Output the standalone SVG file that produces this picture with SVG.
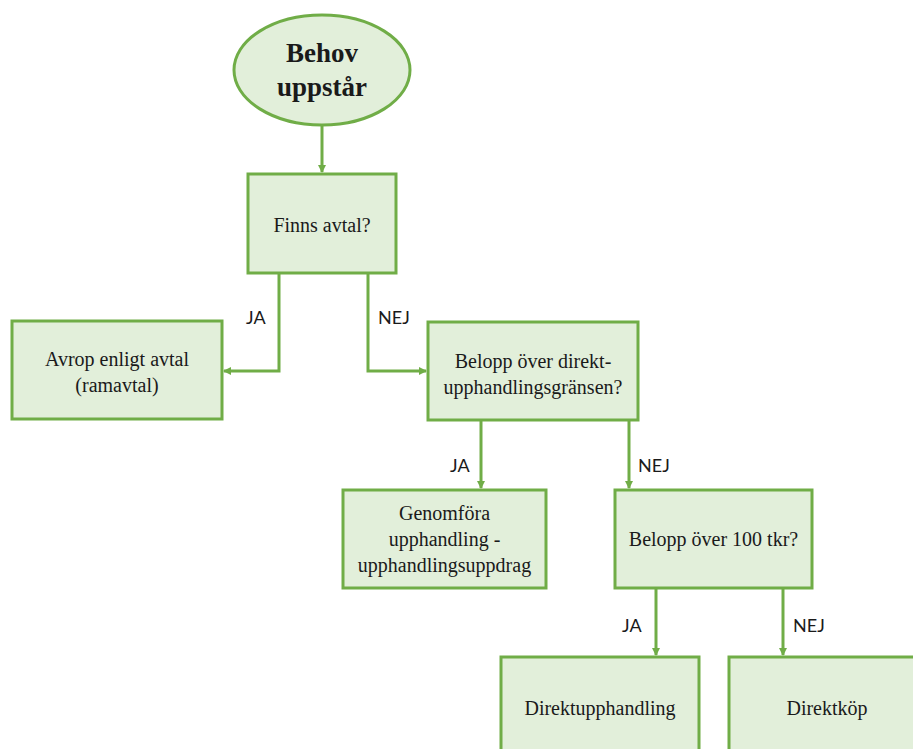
<svg xmlns="http://www.w3.org/2000/svg" width="913" height="749" viewBox="0 0 913 749">
<style>
.n{fill:#e2efda;stroke:#70ad47;stroke-width:3}
.t{font-family:"Liberation Serif","Times New Roman",serif;font-size:20px;fill:#1a1a1a;text-anchor:middle}
.b{font-family:"Liberation Serif","Times New Roman",serif;font-size:27px;font-weight:bold;fill:#1a1a1a;text-anchor:middle}
.l{font-family:Lato,"Liberation Sans",sans-serif;font-size:18px;fill:#1a1a1a}
.c{fill:none;stroke:#70ad47;stroke-width:3}
</style>
<defs>
<marker id="a" markerWidth="10" markerHeight="10" refX="7" refY="4" orient="auto" markerUnits="userSpaceOnUse">
<path d="M0,0 L8,4 L0,8 Z" fill="#70ad47"/>
</marker>
</defs>
<rect width="913" height="749" fill="#ffffff"/>
<g id="connectors">
<path class="c" d="M322,125 V172" marker-end="url(#a)"/>
<path class="c" d="M279,273 V371 H224" marker-end="url(#a)"/>
<path class="c" d="M368,273 V371 H426" marker-end="url(#a)"/>
<path class="c" d="M481,420 V488" marker-end="url(#a)"/>
<path class="c" d="M629,420 V488" marker-end="url(#a)"/>
<path class="c" d="M656,588 V655" marker-end="url(#a)"/>
<path class="c" d="M783,588 V655" marker-end="url(#a)"/>
<text class="l" x="246" y="324">JA</text>
<text class="l" x="378" y="324">NEJ</text>
<text class="l" x="450" y="472">JA</text>
<text class="l" x="638" y="472">NEJ</text>
<text class="l" x="622" y="632">JA</text>
<text class="l" x="793" y="632">NEJ</text>
</g>
<g id="start">
<ellipse class="n" cx="322" cy="70" rx="88" ry="55"/>
<text class="b" x="322" y="62">Behov</text>
<text class="b" x="322" y="96">uppstår</text>
</g>
<g id="finns">
<rect class="n" x="248" y="174" width="148" height="99"/>
<text class="t" x="322" y="232">Finns avtal?</text>
</g>
<g id="avrop">
<rect class="n" x="12" y="321" width="210" height="98"/>
<text class="t" x="117" y="366">Avrop enligt avtal</text>
<text class="t" x="117" y="392">(ramavtal)</text>
</g>
<g id="belopp1">
<rect class="n" x="428" y="322" width="210" height="98"/>
<text class="t" x="533" y="368">Belopp över direkt-</text>
<text class="t" x="533" y="394">upphandlingsgränsen?</text>
</g>
<g id="genomfora">
<rect class="n" x="343" y="490" width="203" height="98"/>
<text class="t" x="444.5" y="520">Genomföra</text>
<text class="t" x="444.5" y="546">upphandling -</text>
<text class="t" x="444.5" y="572">upphandlingsuppdrag</text>
</g>
<g id="belopp2">
<rect class="n" x="615" y="490" width="197" height="98"/>
<text class="t" x="713.5" y="546">Belopp över 100 tkr?</text>
</g>
<g id="direktupphandling">
<rect class="n" x="501" y="657" width="198" height="100"/>
<text class="t" x="600" y="715">Direktupphandling</text>
</g>
<g id="direktkop">
<rect class="n" x="729" y="657" width="200" height="100"/>
<text class="t" x="827" y="715">Direktköp</text>
</g>
</svg>
